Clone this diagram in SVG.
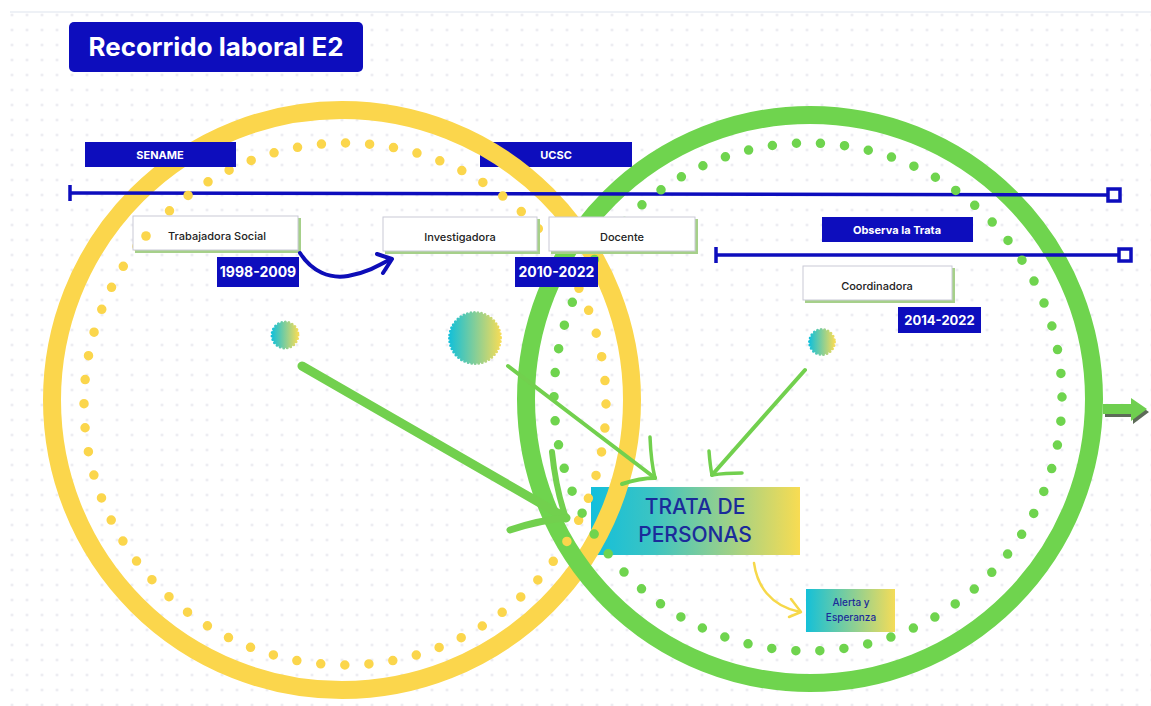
<svg xmlns="http://www.w3.org/2000/svg" width="1151" height="706" viewBox="0 0 1151 706">
<defs>
<pattern id="grid" x="4.5" y="-7.5" width="15" height="15" patternUnits="userSpaceOnUse">
<circle cx="7.5" cy="7.5" r="1.2" fill="#e4e4ec"/>
</pattern>
<linearGradient id="tg" x1="0" y1="0" x2="1" y2="0">
<stop offset="0" stop-color="#12bfdc"/>
<stop offset="0.3" stop-color="#3cc4c2"/>
<stop offset="1" stop-color="#f8dc52"/>
</linearGradient>
<linearGradient id="bg2" x1="0" y1="0" x2="1" y2="0">
<stop offset="0" stop-color="#14c0d8"/>
<stop offset="1" stop-color="#f4dc58"/>
</linearGradient>
<style>
.blue{fill:#0d0dbd}
.wt{font-family:Inter,"Liberation Sans",sans-serif;font-weight:700;fill:#ffffff;text-anchor:middle}
.lt{font-family:Inter,"Liberation Sans",sans-serif;font-weight:500;fill:#222222;text-anchor:middle;font-size:11px}
.lbl{fill:#ffffff;stroke:#c9c9d6;stroke-width:1}
.sh{fill:#a6d08a}
.tl{stroke:#0d0dbd;stroke-width:3.5;fill:none}
.ga{stroke:#72d04e;fill:none;stroke-linecap:round;stroke-linejoin:round}
.badge{fill:url(#bg2);stroke:url(#bg2);stroke-width:3;stroke-dasharray:0 3.6;stroke-linecap:round}
.bt{font-family:Inter,"Liberation Sans",sans-serif;font-weight:500;fill:#1b2b9a;text-anchor:middle}
</style>
</defs>
<g id="background">
<rect x="0" y="0" width="1151" height="706" fill="#ffffff"/>
<rect x="10" y="13" width="1141" height="693" fill="url(#grid)"/>
<line x1="10" y1="12" x2="1151" y2="12" stroke="#dde4ee" stroke-width="1.2"/>
</g>
<g id="node-trata">
<rect x="591" y="487" width="209" height="68" fill="url(#tg)"/>
<text class="bt" x="695" y="514" font-size="21">TRATA DE</text>
<text class="bt" x="695" y="542" font-size="21">PERSONAS</text>
</g>
<g id="node-ucsc">
<rect class="blue" x="480" y="142" width="152" height="25"/>
<text class="wt" x="556" y="159" font-size="11">UCSC</text>
</g>
<g id="rings">
<circle cx="342" cy="400" r="290" fill="none" stroke="#fbd64c" stroke-width="18"/>
<circle cx="810" cy="399" r="284" fill="none" stroke="#6fd44e" stroke-width="18"/>
</g>
<g id="timelines">
<line class="tl" x1="70" y1="193" x2="1107" y2="195"/>
<line class="tl" x1="70" y1="185" x2="70" y2="201"/>
<rect x="1108" y="189" width="12" height="12" fill="#ffffff" stroke="#0d0dbd" stroke-width="3.5"/>
<line class="tl" x1="716" y1="255" x2="1118" y2="255"/>
<line class="tl" x1="716" y1="247" x2="716" y2="263"/>
<rect x="1119" y="249" width="12" height="12" fill="#ffffff" stroke="#0d0dbd" stroke-width="3.5"/>
</g>
<g id="dotted-rings">
<circle cx="345" cy="404" r="261" fill="none" stroke="#fbd64c" stroke-width="9.5" stroke-linecap="round" stroke-dasharray="0 24.117"/>
<circle cx="808" cy="397" r="254" fill="none" stroke="#6fd44e" stroke-width="9.5" stroke-linecap="round" stroke-dasharray="0 24.18"/>
</g>
<g id="node-sename">
<rect class="blue" x="85" y="142" width="151" height="25"/>
<text class="wt" x="160" y="159" font-size="11">SENAME</text>
</g>
<g id="node-observa">
<rect class="blue" x="822" y="217" width="151" height="25"/>
<text class="wt" x="897" y="234" font-size="11">Observa la Trata</text>
</g>
<g id="node-trabajadora">
<rect class="sh" x="135" y="218" width="166" height="35"/>
<rect class="lbl" x="133" y="216" width="165" height="34"/>
<circle cx="146" cy="236" r="4.8" fill="#fbd64c"/>
<text class="lt" x="217" y="240">Trabajadora Social</text>
</g>
<g id="node-investigadora">
<rect class="sh" x="385" y="219" width="155" height="35"/>
<rect class="lbl" x="383" y="217" width="154" height="34"/>
<text class="lt" x="460" y="241">Investigadora</text>
</g>
<g id="node-docente">
<rect class="sh" x="551" y="219" width="147" height="35"/>
<rect class="lbl" x="549" y="217" width="146" height="34"/>
<text class="lt" x="622" y="241">Docente</text>
</g>
<g id="node-coordinadora">
<rect class="sh" x="805" y="268" width="150" height="35"/>
<rect class="lbl" x="803" y="266" width="149" height="34"/>
<text class="lt" x="877" y="290">Coordinadora</text>
</g>
<g id="node-y1998">
<rect class="blue" x="217" y="257" width="82" height="30"/>
<text class="wt" x="258" y="277" font-size="14">1998-2009</text>
</g>
<g id="node-y2010">
<rect class="blue" x="515" y="257" width="83" height="30"/>
<text class="wt" x="556.5" y="277" font-size="14">2010-2022</text>
</g>
<g id="node-y2014">
<rect class="blue" x="898" y="307" width="83" height="26"/>
<text class="wt" x="939.5" y="325" font-size="13">2014-2022</text>
</g>
<g id="node-badges">
<circle class="badge" cx="285" cy="335" r="13"/>
<circle class="badge" cx="475" cy="338" r="25.5"/>
<circle class="badge" cx="822" cy="342" r="12.5"/>
</g>
<g id="node-alerta">
<rect x="806" y="589" width="89" height="43" fill="url(#bg2)"/>
<text class="bt" x="851" y="606" font-size="10">Alerta y</text>
<text class="bt" x="851" y="621" font-size="10">Esperanza</text>
</g>
<g id="connectors">
<path class="ga" stroke-width="9" d="M302,366 L566,518"/>
<path class="ga" stroke-width="6" d="M552,452 Q556,490 566,518"/>
<path class="ga" stroke-width="7" d="M510,530 Q540,520 566,518"/>
<path class="ga" stroke-width="4" d="M508,366 L655,478"/>
<path class="ga" stroke-width="3.5" d="M650,437 Q651,462 655,478"/>
<path class="ga" stroke-width="4" d="M622,484 Q640,478 655,478"/>
<path class="ga" stroke-width="4" d="M805,370 L712,475"/>
<path class="ga" stroke-width="3.5" d="M709,451 Q710,465 712,475"/>
<path class="ga" stroke-width="3.5" d="M742,473 Q725,473 712,475"/>
<path d="M300,253 C312,272 330,279 348,276 C366,273 380,265 391,259" fill="none" stroke="#0d0db8" stroke-width="4" stroke-linecap="round"/>
<path d="M377,254 L392,259 L383,273" fill="none" stroke="#0d0db8" stroke-width="4" stroke-linecap="round" stroke-linejoin="round"/>
<path d="M754,563 C757,585 770,606 800,612" fill="none" stroke="#f6d84a" stroke-width="2.5" stroke-linecap="round"/>
<path d="M791,599 L801,612 L789,617" fill="none" stroke="#f6d84a" stroke-width="2.5" stroke-linecap="round" stroke-linejoin="round"/>
<polygon points="1105,407 1133,407 1133,401 1149,412 1133,424 1133,417 1105,417" fill="#5d6b58"/>
<polygon points="1103,404 1131,404 1131,398 1147,409 1131,421 1131,414 1103,414" fill="#6fcf4f"/>
</g>
<g id="node-title">
<rect class="blue" x="69" y="22" width="294" height="50" rx="5"/>
<text class="wt" x="216" y="56" font-size="25" textLength="255" lengthAdjust="spacingAndGlyphs">Recorrido laboral E2</text>
</g>
</svg>
